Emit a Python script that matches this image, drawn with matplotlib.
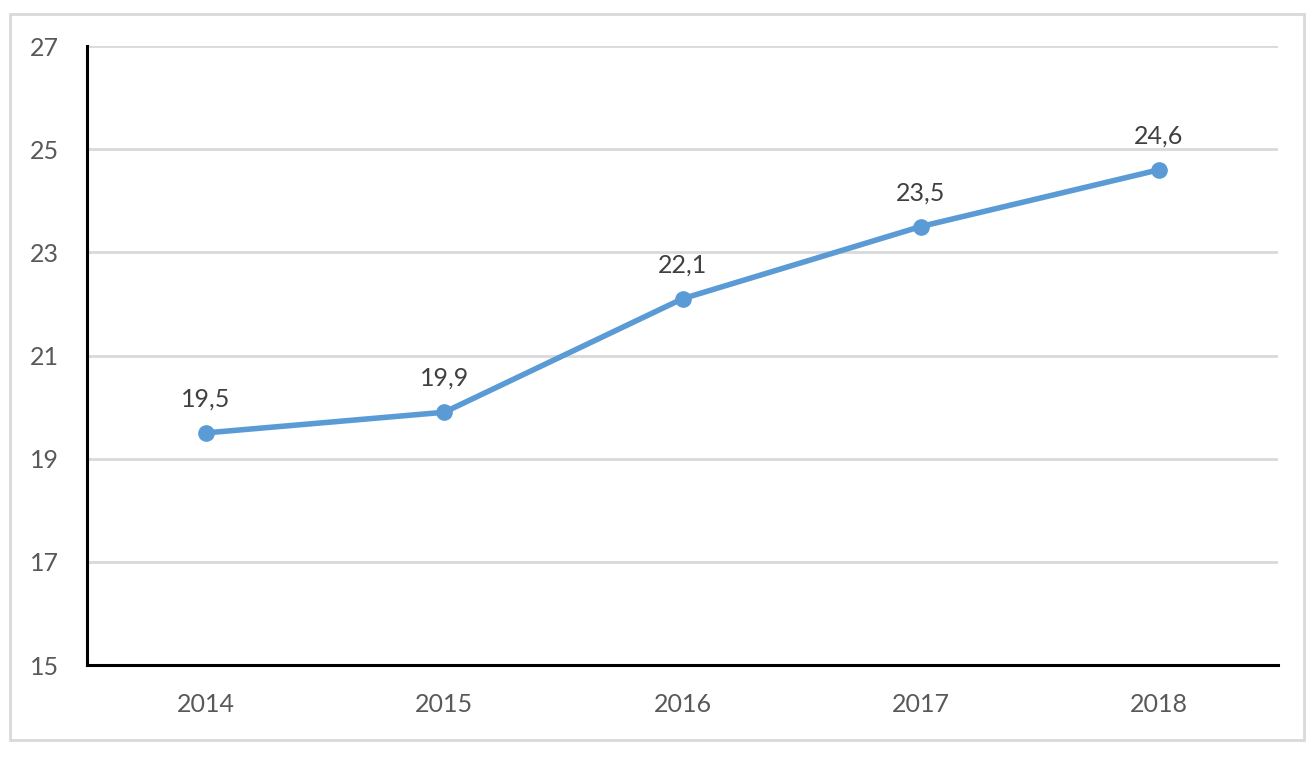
import matplotlib.pyplot as plt
from matplotlib.patches import Rectangle

# data
years = ['2014', '2015', '2016', '2017', '2018']
values = [19.5, 19.9, 22.1, 23.5, 24.6]
y_ticks = [15, 17, 19, 21, 23, 25, 27]

line_color = '#5B9BD5'
text_color = '#595959'

plt.rcParams['font.family'] = ['Lato', 'DejaVu Sans']

fig = plt.figure(figsize=(13.16, 7.58), dpi=100)
ax = fig.add_axes([87 / 1316, 1 - 665 / 758, (1278 - 87) / 1316, (665 - 46) / 758])

# grey frame round the whole chart
fig.patches.append(Rectangle((10 / 1316, 1 - 740 / 758), 1294 / 1316, 726 / 758,
                             transform=fig.transFigure, fill=False,
                             edgecolor='#D9D9D9', linewidth=2))

x = list(range(len(years)))
ax.plot(x, values, color=line_color, linewidth=4, marker='o', markersize=11,
        solid_capstyle='round', zorder=3)

# value labels above points, with decimal comma
for xi, v in zip(x, values):
    ax.annotate(f'{v:.1f}'.replace('.', ','), (xi, v), xytext=(0, 16),
                textcoords='offset points', ha='center', va='bottom',
                fontsize=18, color='#404040')

ax.set_xlim(-0.5, len(years) - 0.5)
ax.set_ylim(15, 27)
ax.set_yticks(y_ticks)
ax.set_xticks(x)
ax.set_xticklabels(years)

ax.yaxis.grid(True, color='#D9D9D9', linewidth=2)
ax.set_axisbelow(True)

for side in ['top', 'right']:
    ax.spines[side].set_visible(False)
for side in ['left', 'bottom']:
    ax.spines[side].set_color('black')
    ax.spines[side].set_linewidth(2.2)

ax.tick_params(axis='both', length=0, labelsize=18, labelcolor=text_color)
ax.tick_params(axis='y', pad=20)
ax.tick_params(axis='x', pad=20)

fig.savefig('out.png', dpi=100)
